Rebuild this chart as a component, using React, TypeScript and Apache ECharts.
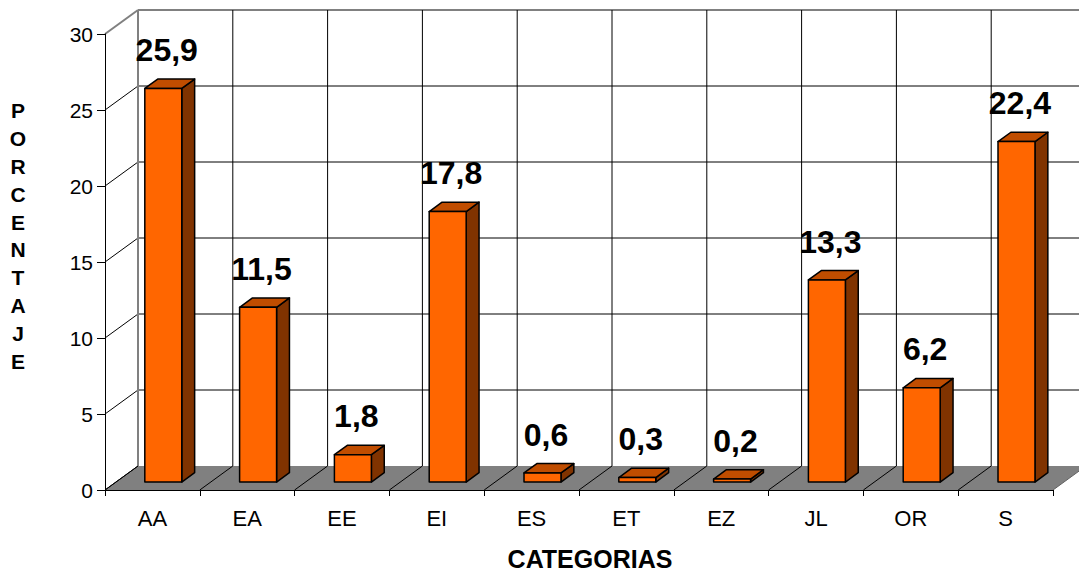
import React, { useEffect, useRef } from "react";
import * as echarts from "echarts";

const categories = ["AA", "EA", "EE", "EI", "ES", "ET", "EZ", "JL", "OR", "S"];
const values = [25.9, 11.5, 1.8, 17.8, 0.6, 0.3, 0.2, 13.3, 6.2, 22.4];
const yTicks = [0, 5, 10, 15, 20, 25, 30];

const FONT = "'Liberation Sans', Arial, sans-serif";
const DX = 33;
const DY = -24;
const F1 = 0.33;
const F2 = 0.72;
const BAR_W = 0.39;

export default function App() {
  const ref = useRef<HTMLDivElement>(null);
  useEffect(() => {
    if (!ref.current) return;
    const chart = echarts.init(ref.current, undefined, { renderer: "svg" });

    const renderBackground = (params: any, api: any) => {
      const cw = api.size([1, 0])[0];
      const p0 = api.coord([0, 0]);
      const L = p0[0] - cw / 2;
      const R = L + cw * categories.length;
      const B = p0[1];
      const T = api.coord([0, yTicks[yTicks.length - 1]])[1];
      const children: any[] = [];
      children.push({
        type: "polygon",
        shape: { points: [[L, B], [R, B], [R + DX, B + DY], [L + DX, B + DY]] },
        style: { fill: "#808080", stroke: "none" },
      });
      yTicks.forEach((t, i) => {
        const y = api.coord([0, t])[1];
        const top = i === yTicks.length - 1;
        const col = top ? "#808080" : "#000";
        if (t !== 0) {
          children.push({
            type: "line",
            shape: { x1: L + DX, y1: y + DY, x2: R + DX, y2: y + DY },
            style: { stroke: col, lineWidth: top ? 2 : 1 },
          });
        }
        children.push({
          type: "line",
          shape: { x1: L, y1: y, x2: L + DX, y2: y + DY },
          style: { stroke: col, lineWidth: top ? 2 : 1 },
        });
      });
      for (let k = 1; k <= categories.length; k++) {
        const x = L + k * cw;
        children.push({
          type: "line",
          shape: { x1: x + DX, y1: T + DY, x2: x + DX, y2: B + DY },
          style: { stroke: "#000", lineWidth: 1 },
        });
        children.push({
          type: "line",
          shape: { x1: x, y1: B, x2: x + DX, y2: B + DY },
          style: { stroke: k === categories.length ? "#606060" : "#000", lineWidth: 1 },
        });
      }
      children.push({
        type: "line",
        shape: { x1: L + DX, y1: T + DY, x2: L + DX, y2: B + DY },
        style: { stroke: "#808080", lineWidth: 2 },
      });
      children.push({
        type: "line",
        shape: { x1: L, y1: B, x2: L + DX, y2: B + DY },
        style: { stroke: "#000", lineWidth: 1 },
      });
      return { type: "group", children };
    };

    const renderBar = (params: any, api: any) => {
      const idx = api.value(0);
      const val = api.value(1);
      const cw = api.size([1, 0])[0];
      const base = api.coord([idx, 0]);
      const top = api.coord([idx, val]);
      const bw = cw * BAR_W;
      const xl = base[0] - bw / 2 + F1 * DX;
      const xr = xl + bw;
      const yb = base[1] + F1 * DY;
      const yt = top[1] + F1 * DY;
      const ddx = (F2 - F1) * DX;
      const ddy = (F2 - F1) * DY;
      const stroke = { stroke: "#000", lineWidth: 1.5, lineJoin: "round" };
      return {
        type: "group",
        children: [
          {
            type: "polygon",
            shape: { points: [[xr, yt], [xr + ddx, yt + ddy], [xr + ddx, yb + ddy], [xr, yb]] },
            style: { fill: "#803300", ...stroke },
          },
          {
            type: "polygon",
            shape: { points: [[xl, yt], [xr, yt], [xr + ddx, yt + ddy], [xl + ddx, yt + ddy]] },
            style: { fill: "#C04D00", ...stroke },
          },
          {
            type: "rect",
            shape: { x: xl, y: yt, width: bw, height: Math.max(yb - yt, 0.5) },
            style: { fill: "#FF6600", ...stroke },
          },
          {
            type: "text",
            x: (xl + xr + ddx) / 2 - 3,
            y: yt + ddy - 13,
            style: {
              text: String(val).replace(".", ","),
              fontFamily: FONT,
              fontWeight: "bold",
              fontSize: 32,
              fill: "#000",
              align: "center",
              verticalAlign: "bottom",
            },
          },
        ],
      };
    };

    chart.setOption({
      animation: false,
      backgroundColor: "#fff",
      grid: { left: 105, right: 26, top: 34, bottom: 82 },
      xAxis: {
        type: "category",
        data: categories,
        boundaryGap: true,
        z: 10,
        axisLine: { lineStyle: { color: "#000", width: 1 } },
        axisTick: { show: true, length: 6, lineStyle: { color: "#000" } },
        axisLabel: { fontFamily: FONT, fontSize: 22, color: "#000", margin: 17 },
        splitLine: { show: false },
      },
      yAxis: {
        type: "value",
        min: 0,
        max: 30,
        interval: 5,
        z: 10,
        axisLine: { show: true, lineStyle: { color: "#000", width: 1 } },
        axisTick: { show: true, length: 8, lineStyle: { color: "#000" } },
        axisLabel: { fontFamily: FONT, fontSize: 21, color: "#000", margin: 12 },
        splitLine: { show: false },
      },
      graphic: [
        {
          type: "text",
          x: 18,
          y: 236,
          style: {
            text: "PORCENTAJE".split("").join("\n"),
            fontFamily: FONT,
            fontWeight: "bold",
            fontSize: 21,
            lineHeight: 27.8,
            fill: "#000",
            align: "center",
            verticalAlign: "middle",
          },
        },
        {
          type: "text",
          x: 590,
          y: 559,
          style: {
            text: "CATEGORIAS",
            fontFamily: FONT,
            fontWeight: "bold",
            fontSize: 25,
            fill: "#000",
            align: "center",
            verticalAlign: "middle",
          },
        },
      ],
      series: [
        {
          type: "custom",
          z: 1,
          renderItem: renderBackground,
          data: [[0, 0]],
          silent: true,
        },
        {
          type: "custom",
          z: 2,
          renderItem: renderBar,
          data: values.map((v, i) => [i, v]),
        },
      ],
    });
    return () => chart.dispose();
  }, []);
  return (
    <div
      ref={ref}
      style={{ position: "fixed", left: 0, top: 0, width: 1079, height: 572 }}
    />
  );
}
